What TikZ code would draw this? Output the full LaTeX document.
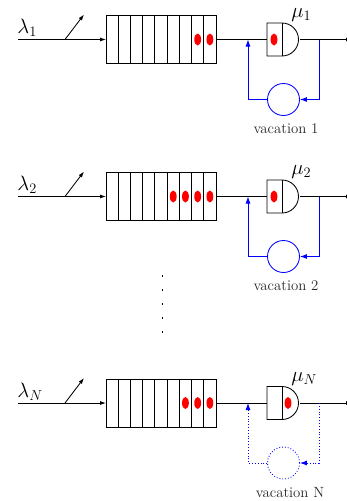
\documentclass[tikz,border=0pt]{standalone}
\usetikzlibrary{arrows.meta}
\newcommand{\qrow}[7]{% #1 id, #2 y, #3 subscript, #4 first red cell, #5 server dot x, #6 vacation style, #7 label x
  \coordinate (in#1) at (18,#2);
  \node[queuebox] (q#1) at (161,#2) {};
  \foreach \i in {1,...,8} \draw (106+\i*12.22,#2-24) -- (106+\i*12.22,#2+24);
  \foreach \i in {#4,...,9} \fill[red] (106+\i*12.22-6.1,#2) ellipse (3.4 and 6);
  \coordinate (sin#1) at (267,#2);
  \coordinate (sout#1) at (300,#2);
  \coordinate (out#1) at (352,#2);
  \draw (267,#2-16.5) -- (282,#2-16.5) arc(-90:90:16.5) -- (267,#2+16.5) -- cycle;
  \draw (282,#2-16.5) -- (282,#2+16.5);
  \fill[red] (#5,#2) ellipse (3.4 and 6);
  \draw[conn] (in#1) -- (q#1.west);
  \draw (q#1.east) -- (sin#1);
  \draw[conn] (sout#1) -- (out#1);
  \coordinate (da#1) at (65,#2);
  \coordinate (db#1) at (84,#2-25);
  \draw[conn] (da#1) -- (db#1);
  \node[lbl, anchor=base west] (lam#1) at (17,#2-6) {$\lambda_{#3}$};
  \node[lbl, anchor=base west] (mu#1) at (291,#2-22) {$\mu_{#3}$};
  \node[vaccirc,#6] (v#1) at (283.5,#2+60) {};
  \coordinate (t#1) at (319,#2);
  \coordinate (b#1) at (248,#2);
  \draw[vacline,#6] (t#1) |- (v#1.east);
  \draw[vacline,#6] (v#1.west) -| (b#1);
  \node[vlbl] (vl#1) at (#7,#2+89.5) {vacation #3};
}
\begin{document}
\begin{tikzpicture}[x=1pt,y=-1pt, line width=0.85pt,
  conn/.style={-{Latex[length=6pt,width=4pt]}},
  queuebox/.style={draw, minimum width=110pt, minimum height=48pt, inner sep=0pt, outer sep=0pt},
  vaccirc/.style={draw=blue, circle, minimum size=32pt, inner sep=0pt},
  vacline/.style={blue, -{Latex[length=7pt,width=5pt]}},
  lbl/.style={font=\fontsize{21.5}{25}\selectfont, inner sep=0pt},
  vlbl/.style={font=\fontsize{14.8}{17}\selectfont, inner sep=0pt, text=black!85}]
\clip (0,0) rectangle (347,501);
\qrow{1}{39.5}{1}{8}{274}{}{286}
\qrow{2}{196.5}{2}{6}{274}{}{286}
\qrow{N}{403}{N}{7}{288}{dotted}{290}
\foreach \yy [count=\k] in {276,290,304,318,332}
  \node[fill=black, inner sep=0pt, minimum size=1.3pt] (dot\k) at (162.7,\yy) {};
\end{tikzpicture}
\end{document}
